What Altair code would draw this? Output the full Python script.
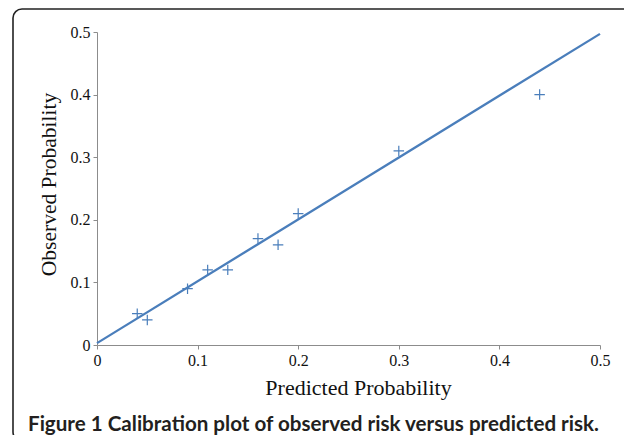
import altair as alt
import pandas as pd

predicted = [0.04, 0.05, 0.09, 0.11, 0.13, 0.16, 0.18, 0.20, 0.30, 0.44]
observed = [0.05, 0.04, 0.09, 0.12, 0.12, 0.17, 0.16, 0.21, 0.31, 0.40]
line_x = [0.0, 0.5]
line_y = [0.003, 0.497]
tick_values = [0, 0.1, 0.2, 0.3, 0.4, 0.5]
caption = "Figure 1 Calibration plot of observed risk versus predicted risk."

blue = "#4a7ebb"
axis_gray = "#8c8c8c"

pts = pd.DataFrame({"pred": predicted, "obs": observed})
ln = pd.DataFrame({"pred": line_x, "obs": line_y})

xs = alt.Scale(domain=[0, 0.5], nice=False, zero=True)
ys = alt.Scale(domain=[0, 0.5], nice=False, zero=True)

xaxis = alt.Axis(
    values=tick_values, format="~g", grid=False,
    domainColor=axis_gray, tickColor=axis_gray, tickSize=4,
    labelFont="Liberation Serif", labelFontSize=16, labelColor="#111",
    labelPadding=3, labelFlush=False,
    title="Predicted Probability", titleFont="Liberation Serif",
    titleFontSize=22, titleFontWeight="normal", titleColor="#111",
    titleX=261, titleY=32, titleBaseline="top", titleAlign="center",
)
yaxis = alt.Axis(
    values=tick_values, format="~g", grid=False,
    domainColor=axis_gray, tickColor=axis_gray, tickSize=4,
    labelFont="Liberation Serif", labelFontSize=16, labelColor="#111",
    labelPadding=3, labelFlush=False,
    title="Observed Probability", titleFont="Liberation Serif",
    titleFontSize=21.5, titleFontWeight="normal", titleColor="#111",
    titleX=-48, titleY=152, titleBaseline="middle", titleAlign="center",
    titleAngle=270,
)

frame = alt.Chart(alt.Data(values=[{"k": 1}])).mark_rect(
    fillOpacity=0, stroke="#222222", strokeWidth=1.6, cornerRadius=9
).encode(
    x=alt.value(-84), x2=alt.value(543), y=alt.value(-23), y2=alt.value(409)
)

line = alt.Chart(ln).mark_line(color=blue, strokeWidth=2.3).encode(
    x=alt.X("pred:Q", scale=xs, axis=xaxis),
    y=alt.Y("obs:Q", scale=ys, axis=yaxis),
)

points = alt.Chart(pts).mark_point(
    shape="M-1,0H1M0,-1V1", filled=False, size=110, strokeWidth=1.2, color=blue, opacity=1
).encode(
    x=alt.X("pred:Q", scale=xs),
    y=alt.Y("obs:Q", scale=ys),
)

cap = alt.Chart(alt.Data(values=[{"t": caption}])).mark_text(
    font="Lato", fontWeight="bold", fontSize=20.6, color="#231f20",
    align="left", baseline="alphabetic"
).encode(
    text="t:N", x=alt.value(-69), y=alt.value(399)
)

chart = alt.layer(frame, line, points, cap).properties(
    width=503, height=313,
    autosize=alt.AutoSizeParams(type="none"),
    padding={"left": 89, "top": 24, "right": 24, "bottom": 90},
    background="white",
).configure_view(stroke=None)

chart.save("out.html", embed_options={"renderer": "svg", "actions": False})
